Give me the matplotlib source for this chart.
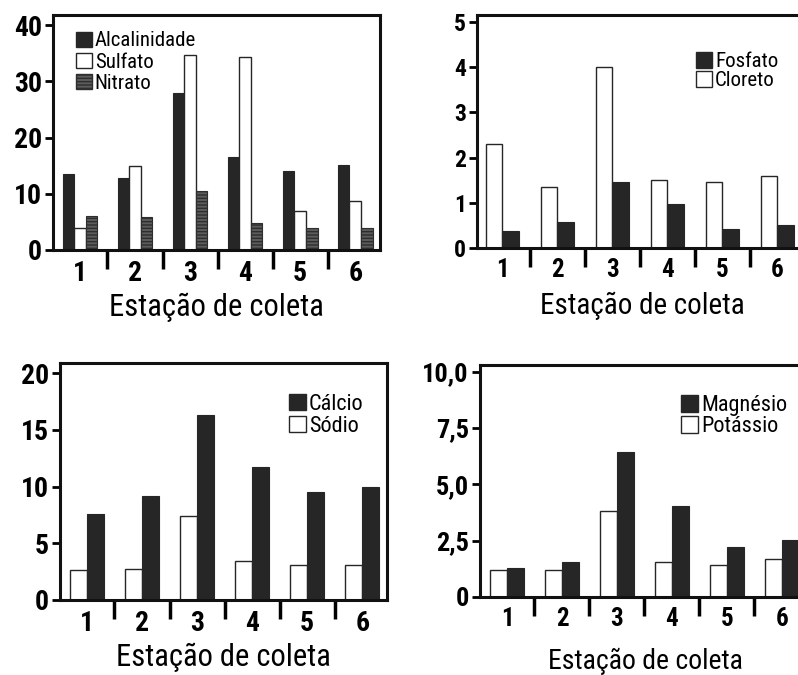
import matplotlib
matplotlib.use('Agg')
import matplotlib.pyplot as plt
from matplotlib.patches import Patch

# narrow sans, close to the Arial Narrow of the scanned figure
plt.rcParams['font.family'] = ['Roboto Condensed', 'DejaVu Sans']

estacoes = [1, 2, 3, 4, 5, 6]

alcalinidade = [13.5, 12.8, 28.0, 16.5, 14.0, 15.2]
sulfato = [4.0, 15.0, 34.7, 34.3, 7.0, 8.7]
nitrato = [6.0, 5.8, 10.5, 4.8, 4.0, 4.0]

cloreto = [2.3, 1.35, 4.0, 1.5, 1.45, 1.6]
fosfato = [0.38, 0.58, 1.45, 0.98, 0.43, 0.5]

sodio = [2.65, 2.75, 7.4, 3.4, 3.1, 3.1]
calcio = [7.6, 9.2, 16.3, 11.7, 9.5, 10.0]

potassio = [1.2, 1.2, 3.8, 1.57, 1.4, 1.7]
magnesio = [1.27, 1.54, 6.45, 4.05, 2.24, 2.54]

BLACK = '#262626'
GRAY = '#5c5c5c'

fig = plt.figure(figsize=(7.98, 6.75), dpi=100)
W, H = 798.0, 675.0


def make_axes(left, top, width, height):
    return fig.add_axes([left / W, 1 - (top + height) / H, width / W, height / H])


def style_axes(ax, yticks, ylabels, ylim, xlim, ytick_fs, xtick_fs, label_fs,
               labelpad=4, xlabel='Estação de coleta'):
    for side in ['left', 'bottom', 'top', 'right']:
        ax.spines[side].set_linewidth(2.2)
        ax.spines[side].set_color('#111111')
    ax.set_ylim(*ylim)
    ax.set_xlim(*xlim)
    ax.set_yticks(yticks, ylabels)
    ax.tick_params(axis='y', direction='out', length=6, width=2, pad=2,
                   labelsize=ytick_fs)
    for t in ax.get_yticklabels():
        t.set_fontweight('bold')
    # boundary marks below axis, station numbers between them
    ax.set_xticks([1.5, 2.5, 3.5, 4.5, 5.5], ['', '', '', '', ''])
    ax.tick_params(axis='x', which='major', direction='out', length=14, width=2.5)
    ax.set_xticks(estacoes, [str(e) for e in estacoes], minor=True)
    ax.tick_params(axis='x', which='minor', length=0, pad=7, labelsize=xtick_fs)
    for t in ax.get_xticklabels(minor=True):
        t.set_fontweight('bold')
    ax.set_xlabel(xlabel, fontsize=label_fs, labelpad=labelpad)


def legend(ax, handles, labels, anchor, fs, spacing):
    ax.legend(handles, labels, loc='upper left', bbox_to_anchor=anchor, frameon=False,
              fontsize=fs, handlelength=0.75, handleheight=0.75, handletextpad=0.15,
              labelspacing=spacing, borderaxespad=0, borderpad=0)


x = estacoes

# --- top left: alcalinidade, sulfato, nitrato
ax1 = make_axes(53, 15, 327, 235)
w = 0.21
ax1.bar([i - w for i in x], alcalinidade, w, color=BLACK, edgecolor=BLACK, linewidth=0.8)
ax1.bar(x, sulfato, w, color='white', edgecolor=BLACK, linewidth=1.0)
ax1.bar([i + w for i in x], nitrato, w, color=GRAY, edgecolor='#2e2e2e',
        linewidth=0.8, hatch='-----')
style_axes(ax1, [0, 10, 20, 30, 40], ['0', '10', '20', '30', '40'], (0, 41.8),
           (0.51, 6.45), 20, 20, 22)
legend(ax1,
       [Patch(facecolor=BLACK, edgecolor=BLACK),
        Patch(facecolor='white', edgecolor=BLACK),
        Patch(facecolor=GRAY, edgecolor='#2e2e2e', hatch='-----')],
       ['Alcalinidade', 'Sulfato', 'Nitrato'], (0.07, 0.93), 15, 0.1)

# --- top right: cloreto, fosfato
ax2 = make_axes(477, 15, 330, 233)
w = 0.3
ax2.bar([i - w / 2 for i in x], cloreto, w, color='white', edgecolor=BLACK, linewidth=1.0)
ax2.bar([i + w / 2 for i in x], fosfato, w, color=BLACK, edgecolor=BLACK, linewidth=0.8)
style_axes(ax2, [0, 1, 2, 3, 4, 5], ['0', '1', '2', '3', '4', '5'], (0, 5.15),
           (0.545, 6.545), 17, 18, 21, labelpad=7)
ax2.spines['right'].set_visible(False)
legend(ax2,
       [Patch(facecolor=BLACK, edgecolor=BLACK),
        Patch(facecolor='white', edgecolor=BLACK)],
       ['Fosfato', 'Cloreto'], (0.665, 0.84), 15, 0.0)

# --- bottom left: sodio, calcio
ax3 = make_axes(60, 363, 327, 237)
w = 0.31
ax3.bar([i - w / 2 for i in x], sodio, w, color='white', edgecolor=BLACK, linewidth=1.0)
ax3.bar([i + w / 2 for i in x], calcio, w, color=BLACK, edgecolor=BLACK, linewidth=0.8)
style_axes(ax3, [0, 5, 10, 15, 20], ['0', '5', '10', '15', '20'], (0, 20.9),
           (0.51, 6.45), 20, 20, 22)
legend(ax3,
       [Patch(facecolor=BLACK, edgecolor=BLACK),
        Patch(facecolor='white', edgecolor=BLACK)],
       ['Cálcio', 'Sódio'], (0.70, 0.87), 16, 0.05)

# --- bottom right: potassio, magnesio
ax4 = make_axes(480, 365, 330, 232)
ax4.bar([i - w / 2 for i in x], potassio, w, color='white', edgecolor=BLACK, linewidth=1.0)
ax4.bar([i + w / 2 for i in x], magnesio, w, color=BLACK, edgecolor=BLACK, linewidth=0.8)
style_axes(ax4, [0, 2.5, 5.0, 7.5, 10.0], ['0', '2,5', '5,0', '7,5', '10,0'], (0, 10.3),
           (0.51, 6.51), 19, 18, 20, labelpad=12)
ax4.spines['right'].set_visible(False)
legend(ax4,
       [Patch(facecolor=BLACK, edgecolor=BLACK),
        Patch(facecolor='white', edgecolor=BLACK)],
       ['Magnésio', 'Potássio'], (0.61, 0.87), 16, 0.0)

fig.savefig('out.png', dpi=100)
